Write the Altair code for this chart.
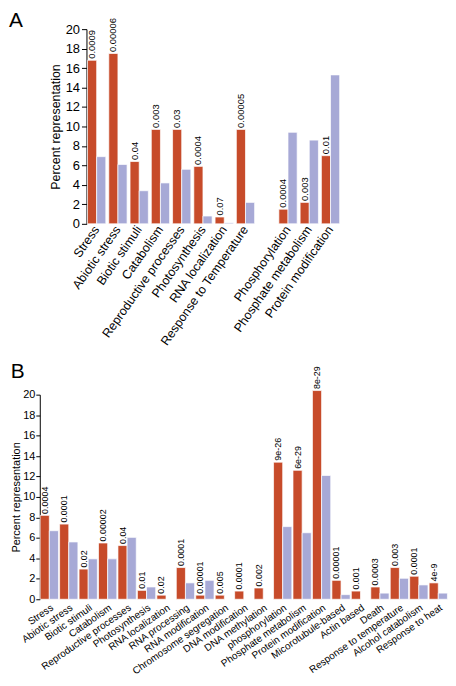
import altair as alt
import pandas as pd

FONT = "Liberation Sans"
RED = "#C74B2A"
BLUE = "#A7A9D6"

# ---------------- Panel A data ----------------
cats_a = ["Stress", "Abiotic stress", "Biotic stimuli", "Catabolism",
          "Reproductive processes", "Photosynthesis", "RNA localization",
          "Response to Temperature", " ", "Phosphorylation",
          "Phosphate metabolism", "Protein modification"]
sel_a = [16.8, 17.5, 6.4, 9.7, 9.7, 5.9, 0.7, 9.7, None, 1.5, 2.2, 7.0]
gen_a = [6.9, 6.1, 3.4, 4.2, 5.6, 0.8, 0.1, 2.2, None, 9.4, 8.6, 15.3]
pval_a = ["0.0009", "0.00006", "0.04", "0.003", "0.03", "0.0004", "0.07",
          "0.00005", "", "0.0004", "0.003", "0.01"]

# ---------------- Panel B data ----------------
cats_b = ["Stress", "Abiotic stress", "Biotic stimuli", "Catabolism",
          "Reproductive processes", "Photosynthesis", "RNA localization",
          "RNA processing", "RNA modification", "Chromosome segregation",
          "DNA modification", "DNA methylation", "phosphorylation",
          "Phosphate metabolism", "Protein modification", "Micorotubule-based",
          "Actin  based", "Death", "Response to temperature",
          "Alcohol catabolism", "Response to heat"]
sel_b = [8.2, 7.35, 2.95, 5.5, 5.25, 0.87, 0.4, 3.1, 0.4, 0.4, 0.8, 1.1,
         13.4, 12.6, 20.4, 1.85, 0.8, 1.2, 3.1, 2.25, 1.6]
gen_b = [6.7, 5.6, 3.95, 3.95, 6.05, 1.2, None, 1.6, 1.85, None, None, None,
         7.1, 6.5, 12.1, 0.45, None, 0.6, 2.05, 1.4, 0.6]
pval_b = ["0.0004", "0.0001", "0.02", "0.00002", "0.04", "0.01", "0.02",
          "0.0001", "0.00001", "0.005", "0.0001", "0.002", "9e-26", "6e-29",
          "8e-29", "0.00001", "0.001", "0.0003", "0.003", "0.0001", "4e-9"]

SERIES = ["Selected", "Genome"]


def long_table(cats, sel, gen):
    rows = []
    for c, s, g in zip(cats, sel, gen):
        if s is not None:
            rows.append({"category": c, "series": "Selected", "value": s})
        if g is not None:
            rows.append({"category": c, "series": "Genome", "value": g})
    return pd.DataFrame(rows)


def label_table(cats, sel, pv):
    rows = []
    for c, s, p in zip(cats, sel, pv):
        if s is not None and p:
            rows.append({"category": c, "series": "Selected", "value": s, "label": p})
    return pd.DataFrame(rows)


def panel(cats, sel, gen, pv, width, height, label_angle, label_size,
          tick_size, title_size, text_size, pad_inner, pad_outer, title,
          title_pad, tick_len, label_pad, axis_offset=0, x_range=None):
    df = long_table(cats, sel, gen)
    lab = label_table(cats, sel, pv)
    sc = dict(domain=cats, paddingInner=pad_inner, paddingOuter=pad_outer)
    if x_range is not None:
        sc["range"] = x_range
    xscale = alt.Scale(**sc)
    oscale = alt.Scale(domain=SERIES, paddingInner=0, paddingOuter=0)
    yscale = alt.Scale(domain=[0, 20], nice=False)
    xaxis = alt.Axis(labelAngle=label_angle, labelFontSize=label_size,
                     labelFont=FONT, labelColor="black", domain=False,
                     ticks=False, labelPadding=3, labelLimit=300)
    yaxis = alt.Axis(values=list(range(0, 21, 2)), grid=False,
                     domainColor="black", tickColor="black",
                     tickSize=tick_len, labelFontSize=tick_size,
                     labelFont=FONT, labelColor="black",
                     labelPadding=label_pad, labelOverlap=False,
                     titleFont=FONT, titleFontSize=title_size,
                     titleFontWeight="normal", titleColor="black",
                     titlePadding=title_pad, offset=axis_offset)
    xenc = alt.X("category:N", scale=xscale, title=None, axis=xaxis)
    yenc = alt.Y("value:Q", scale=yscale, title="Percent representation", axis=yaxis)
    oenc = alt.XOffset("series:N", scale=oscale)
    bars = alt.Chart(df).mark_bar(stroke="white", strokeWidth=0.7).encode(
        x=xenc, xOffset=oenc, y=yenc,
        color=alt.Color("series:N", scale=alt.Scale(domain=SERIES, range=[RED, BLUE]),
                        legend=None),
    )
    texts = alt.Chart(lab).mark_text(angle=270, align="left", baseline="middle",
                                     dx=1.5, fontSize=text_size, font=FONT,
                                     color="black").encode(
        x=xenc, xOffset=oenc, y=yenc, text="label:N",
    )
    return alt.layer(bars, texts).properties(width=width, height=height, title=title)


title_a = alt.TitleParams("A", orient="left", anchor="end", angle=0, align="right",
                          baseline="top", frame="group", offset=3, dy=-19,
                          fontSize=21, fontWeight="normal", font=FONT, color="black")
title_b = alt.TitleParams("B", orient="top", anchor="start", frame="bounds",
                          baseline="bottom", offset=-37, fontSize=21,
                          fontWeight="normal", font=FONT, color="black")

chart_a = panel(cats_a, sel_a, gen_a, pval_a, width=303, height=196,
                label_angle=-55, label_size=12.5, tick_size=13, title_size=12.5,
                text_size=9.5, pad_inner=0.14, pad_outer=0.05, title=title_a,
                title_pad=3, tick_len=5, label_pad=2, axis_offset=-47,
                x_range=[47, 303])
chart_b = panel(cats_b, sel_b, gen_b, pval_b, width=411, height=206,
                label_angle=-35, label_size=10, tick_size=11, title_size=11,
                text_size=9, pad_inner=0.05, pad_outer=0.02, title=title_b,
                title_pad=1, tick_len=4, label_pad=1)

chart = alt.concat(chart_a, chart_b, columns=1, spacing=13).configure_view(
    stroke=None
).properties(padding={"left": 0, "top": 0, "right": 0, "bottom": 0})

chart.save("out.html", embed_options={"renderer": "svg", "actions": False})
